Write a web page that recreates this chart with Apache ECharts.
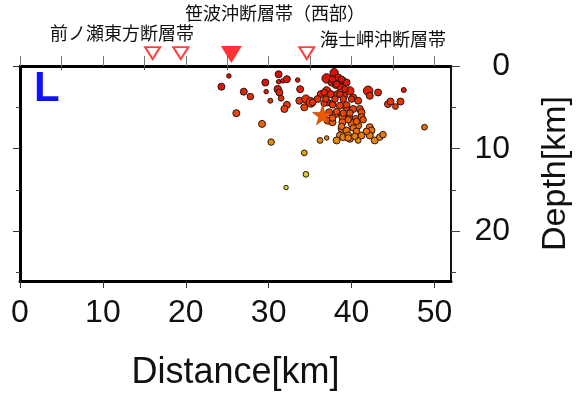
<!DOCTYPE html>
<html>
<head>
<meta charset="utf-8">
<script src="https://cdn.jsdelivr.net/npm/echarts@6/dist/echarts.min.js"></script>
<style>
html,body{margin:0;padding:0;background:#fff}
#c{width:577px;height:393px}
</style>
</head>
<body>
<div id="c"></div>
<script>
// Hypocentres projected onto the profile: distance along profile [km], depth [km], magnitude
const distances = [25.2,24.3,27.0,27.8,26.1,29.2,30.3,31.2,29.6,29.7,30.2,31.2,31.7,32.2,31.1,31.3,31.5,32.2,31.9,33.5,33.8,33.7,34.3,34.5,32.1,36.2,37.0,
  37.0,37.9,38.4,39.0,39.4,37.6,38.1,38.6,39.8,37.0,36.3,37.5,38.3,39.1,40.2,40.8,34.5,35.1,34.3,35.9,37.1,37.7,38.6,39.4,40.2,41.0,41.2,
  37.3,38.1,38.9,39.7,40.5,41.2,37.1,37.7,38.9,40.1,40.8,38.8,39.4,38.6,39.0,39.6,39.8,41.2,38.2,40.8,42.2,42.4,42.2,42.8,42.0,42.2,43.2,
  46.3,44.4,44.7,45.3,45.9,48.8,43.4,43.8,
  36.7,37.7,39.4,38.2,39.0,39.8,37.7,39.6,40.6,41.4,38.8,40.2,40.6,41.8,39.6,40.4,37.7,38.8,38.2,39.2,36.7,38.6,36.9,38.0,39.0,40.0,35.3];
const depths = [1.2,2.5,3.1,3.7,5.7,7.0,9.2,1.0,2.0,3.1,4.2,1.9,1.8,1.6,2.8,3.2,3.9,4.7,5.2,1.7,2.8,4.2,10.5,13.1,14.7,9.0,8.7,
  1.5,0.8,1.4,1.8,2.0,2.0,2.3,2.5,3.0,3.0,3.4,3.4,3.4,3.6,3.8,4.2,4.0,4.4,5.0,4.0,4.4,4.6,4.8,5.0,5.2,5.2,5.6,
  5.6,5.8,6.2,6.2,6.4,6.2,6.6,6.8,6.8,7.0,7.2,7.6,7.8,8.4,8.6,8.4,8.8,8.4,9.0,9.0,7.4,7.8,8.4,9.0,3.0,3.6,3.2,
  2.9,4.6,4.3,4.9,4.3,7.4,8.6,8.3,
  4.5,4.7,4.7,5.5,5.7,5.7,6.3,6.5,6.7,6.5,7.3,7.5,7.9,7.9,8.7,8.5,1.6,1.6,2.2,2.8,3.2,3.4,4.0,4.0,4.0,4.0,4.4];
const magnitudes = [1.0,2.0,2.0,1.8,2.0,2.0,1.8,2.0,2.0,1.0,1.2,1.0,1.0,2.0,2.2,2.0,1.5,2.0,2.0,1.0,2.0,2.0,1.5,1.5,1.0,1.5,1.0,
  3.0,2.5,2.0,2.0,2.0,2.0,2.0,2.0,2.5,2.5,2.0,2.0,2.0,2.0,2.0,2.0,2.5,3.0,2.0,2.0,2.0,2.0,2.0,2.0,2.0,2.0,2.0,
  2.0,2.0,2.0,2.0,2.0,2.0,2.0,2.0,2.0,2.5,2.0,2.0,2.0,2.0,2.0,2.0,2.0,2.0,2.0,1.5,2.0,2.0,2.0,2.0,3.0,2.0,2.0,
  1.2,2.0,2.0,1.5,2.0,1.5,1.8,1.8,
  1.8,1.8,1.8,1.8,1.8,1.8,1.8,1.8,1.8,1.8,1.8,1.8,1.8,1.8,1.8,1.8,1.8,1.8,1.8,1.8,1.8,1.8,1.8,1.8,1.8,1.8,1.8];
// Main shock [distance, depth]
const mainShock = [36.5, 5.9];
// Active fault traces crossing the profile
const faultTraces = [16.0, 19.4, 34.6];
const mainFaultTrace = [25.5];
const faultNames = ['前ノ瀬東方断層帯', '笹波沖断層帯（西部）', '海士岬沖断層帯'];
const distanceTicks = [0, 10, 20, 30, 40, 50];
const distanceMinorTicks = [5, 15, 25, 35, 45];
const distanceTopTicks = [0, 5, 10, 15, 20, 25, 30, 35, 40, 45, 50];
const depthTicks = [0, 10, 20];
const depthMinorTicks = [5, 15, 25];

const quakes = distances.map((d, i) => [d, depths[i], magnitudes[i]]);
const FONT = '"Liberation Sans", Arial, sans-serif';
const JP = '"Noto Sans CJK JP", sans-serif';
const GRID = {left: 20, top: 66, width: 431, height: 215, outerBoundsMode: 'none', containLabel: false};
const starPath = 'path://M50,0 L61,35 L98,35 L68,57 L79,91 L50,70 L21,91 L32,57 L2,35 L39,35 Z';

const chart = echarts.init(document.getElementById('c'), null, {renderer: 'canvas'});

function baseX(extra) {
  return Object.assign({type: 'value', min: 0, max: 52, splitLine: {show: false},
    axisLabel: {show: false}, axisTick: {show: false}, axisLine: {show: false}}, extra);
}
function baseY(extra) {
  return Object.assign({type: 'value', min: 0, max: 26, inverse: true, splitLine: {show: false},
    axisLabel: {show: false}, axisTick: {show: false}, axisLine: {show: false}}, extra);
}

chart.setOption({
  animation: false,
  backgroundColor: '#fff',
  grid: [
    Object.assign({}, GRID),
    Object.assign({}, GRID),
    {left: 20, top: 30, width: 431, height: 36, outerBoundsMode: 'none', containLabel: false}
  ],
  xAxis: [
    baseX({gridIndex: 0, position: 'bottom',
      name: 'Distance[km]', nameLocation: 'middle', nameGap: 74,
      nameTextStyle: {fontFamily: FONT, fontSize: 36, color: '#111'},
      axisLine: {show: true, onZero: false, lineStyle: {color: '#000', width: 3}},
      axisTick: {show: true, customValues: distanceTicks, length: 7, lineStyle: {color: '#333', width: 1}},
      axisLabel: {show: true, customValues: distanceTicks, fontFamily: FONT, fontSize: 32, color: '#111', margin: 16}
    }),
    baseX({gridIndex: 0, position: 'top',
      axisLine: {show: true, onZero: false, lineStyle: {color: '#000', width: 3}},
      axisTick: {show: true, customValues: distanceTopTicks, length: 10, lineStyle: {color: '#777', width: 1}}
    }),
    baseX({gridIndex: 1, position: 'bottom',
      axisTick: {show: true, customValues: distanceMinorTicks, length: 4, lineStyle: {color: '#444', width: 1}}
    }),
    baseX({gridIndex: 2, show: false})
  ],
  yAxis: [
    baseY({gridIndex: 0, position: 'left',
      axisLine: {show: true, onZero: false, lineStyle: {color: '#000', width: 3}},
      axisTick: {show: true, customValues: depthTicks, length: 7, lineStyle: {color: '#333', width: 1}}
    }),
    baseY({gridIndex: 0, position: 'right',
      name: 'Depth[km]', nameLocation: 'middle', nameGap: 88, nameRotate: 90,
      nameTextStyle: {fontFamily: FONT, fontSize: 34, color: '#111'},
      axisLine: {show: true, onZero: false, lineStyle: {color: '#111', width: 2}},
      axisTick: {show: true, customValues: depthTicks, length: 9, lineStyle: {color: '#444', width: 1}},
      axisLabel: {show: true, customValues: depthTicks, fontFamily: FONT, fontSize: 32, color: '#111', margin: 59, align: 'right'}
    }),
    baseY({gridIndex: 1, position: 'left',
      axisTick: {show: true, customValues: depthMinorTicks, length: 4, lineStyle: {color: '#444', width: 1}}
    }),
    baseY({gridIndex: 1, position: 'right',
      axisTick: {show: true, customValues: depthMinorTicks, length: 5, lineStyle: {color: '#444', width: 1}}
    }),
    {type: 'value', gridIndex: 2, min: 0, max: 1, show: false}
  ],
  visualMap: {
    show: false, type: 'continuous', seriesIndex: 0, dimension: 1, min: 0, max: 15,
    inRange: {color: ['#d80808', '#de1808', '#e84006', '#ec6c08', '#e49a10', '#e0c61a', '#d2e030']}
  },
  series: [
    {
      type: 'scatter', xAxisIndex: 0, yAxisIndex: 0, data: quakes,
      symbol: 'circle', symbolSize: v => 2.5 * v[2] + 2,
      itemStyle: {borderColor: '#2a1410', borderWidth: 1, opacity: 1},
      z: 3
    },
    {
      type: 'scatter', xAxisIndex: 0, yAxisIndex: 0, data: [mainShock],
      symbol: starPath, symbolSize: 20,
      itemStyle: {color: '#f05800', borderColor: '#a03808', borderWidth: 0.6, opacity: 1},
      z: 6
    },
    {
      type: 'scatter', xAxisIndex: 3, yAxisIndex: 4, data: faultTraces.map(d => [d, 0.36]),
      symbol: 'triangle', symbolRotate: 180, symbolSize: [15, 12],
      itemStyle: {color: '#fff', borderColor: '#ff1010', borderWidth: 2},
      clip: false, z: 5
    },
    {
      type: 'scatter', xAxisIndex: 3, yAxisIndex: 4, data: mainFaultTrace.map(d => [d, 0.32]),
      symbol: 'triangle', symbolRotate: 180, symbolSize: [21, 17],
      itemStyle: {color: '#ff0000'},
      clip: false, z: 5
    }
  ],
  graphic: [
    {type: 'text', left: 34, top: 68, style: {text: 'L', font: 'bold 42px ' + FONT, fill: '#1010ff'}},
    {type: 'text', left: 50, top: 24, style: {text: faultNames[0], font: '18px ' + JP, fill: '#111'}},
    {type: 'text', left: 185, top: 4, style: {text: faultNames[1], font: '18px ' + JP, fill: '#111'}},
    {type: 'text', left: 320, top: 30, style: {text: faultNames[2], font: '18px ' + JP, fill: '#111'}}
  ]
});
</script>
</body>
</html>
